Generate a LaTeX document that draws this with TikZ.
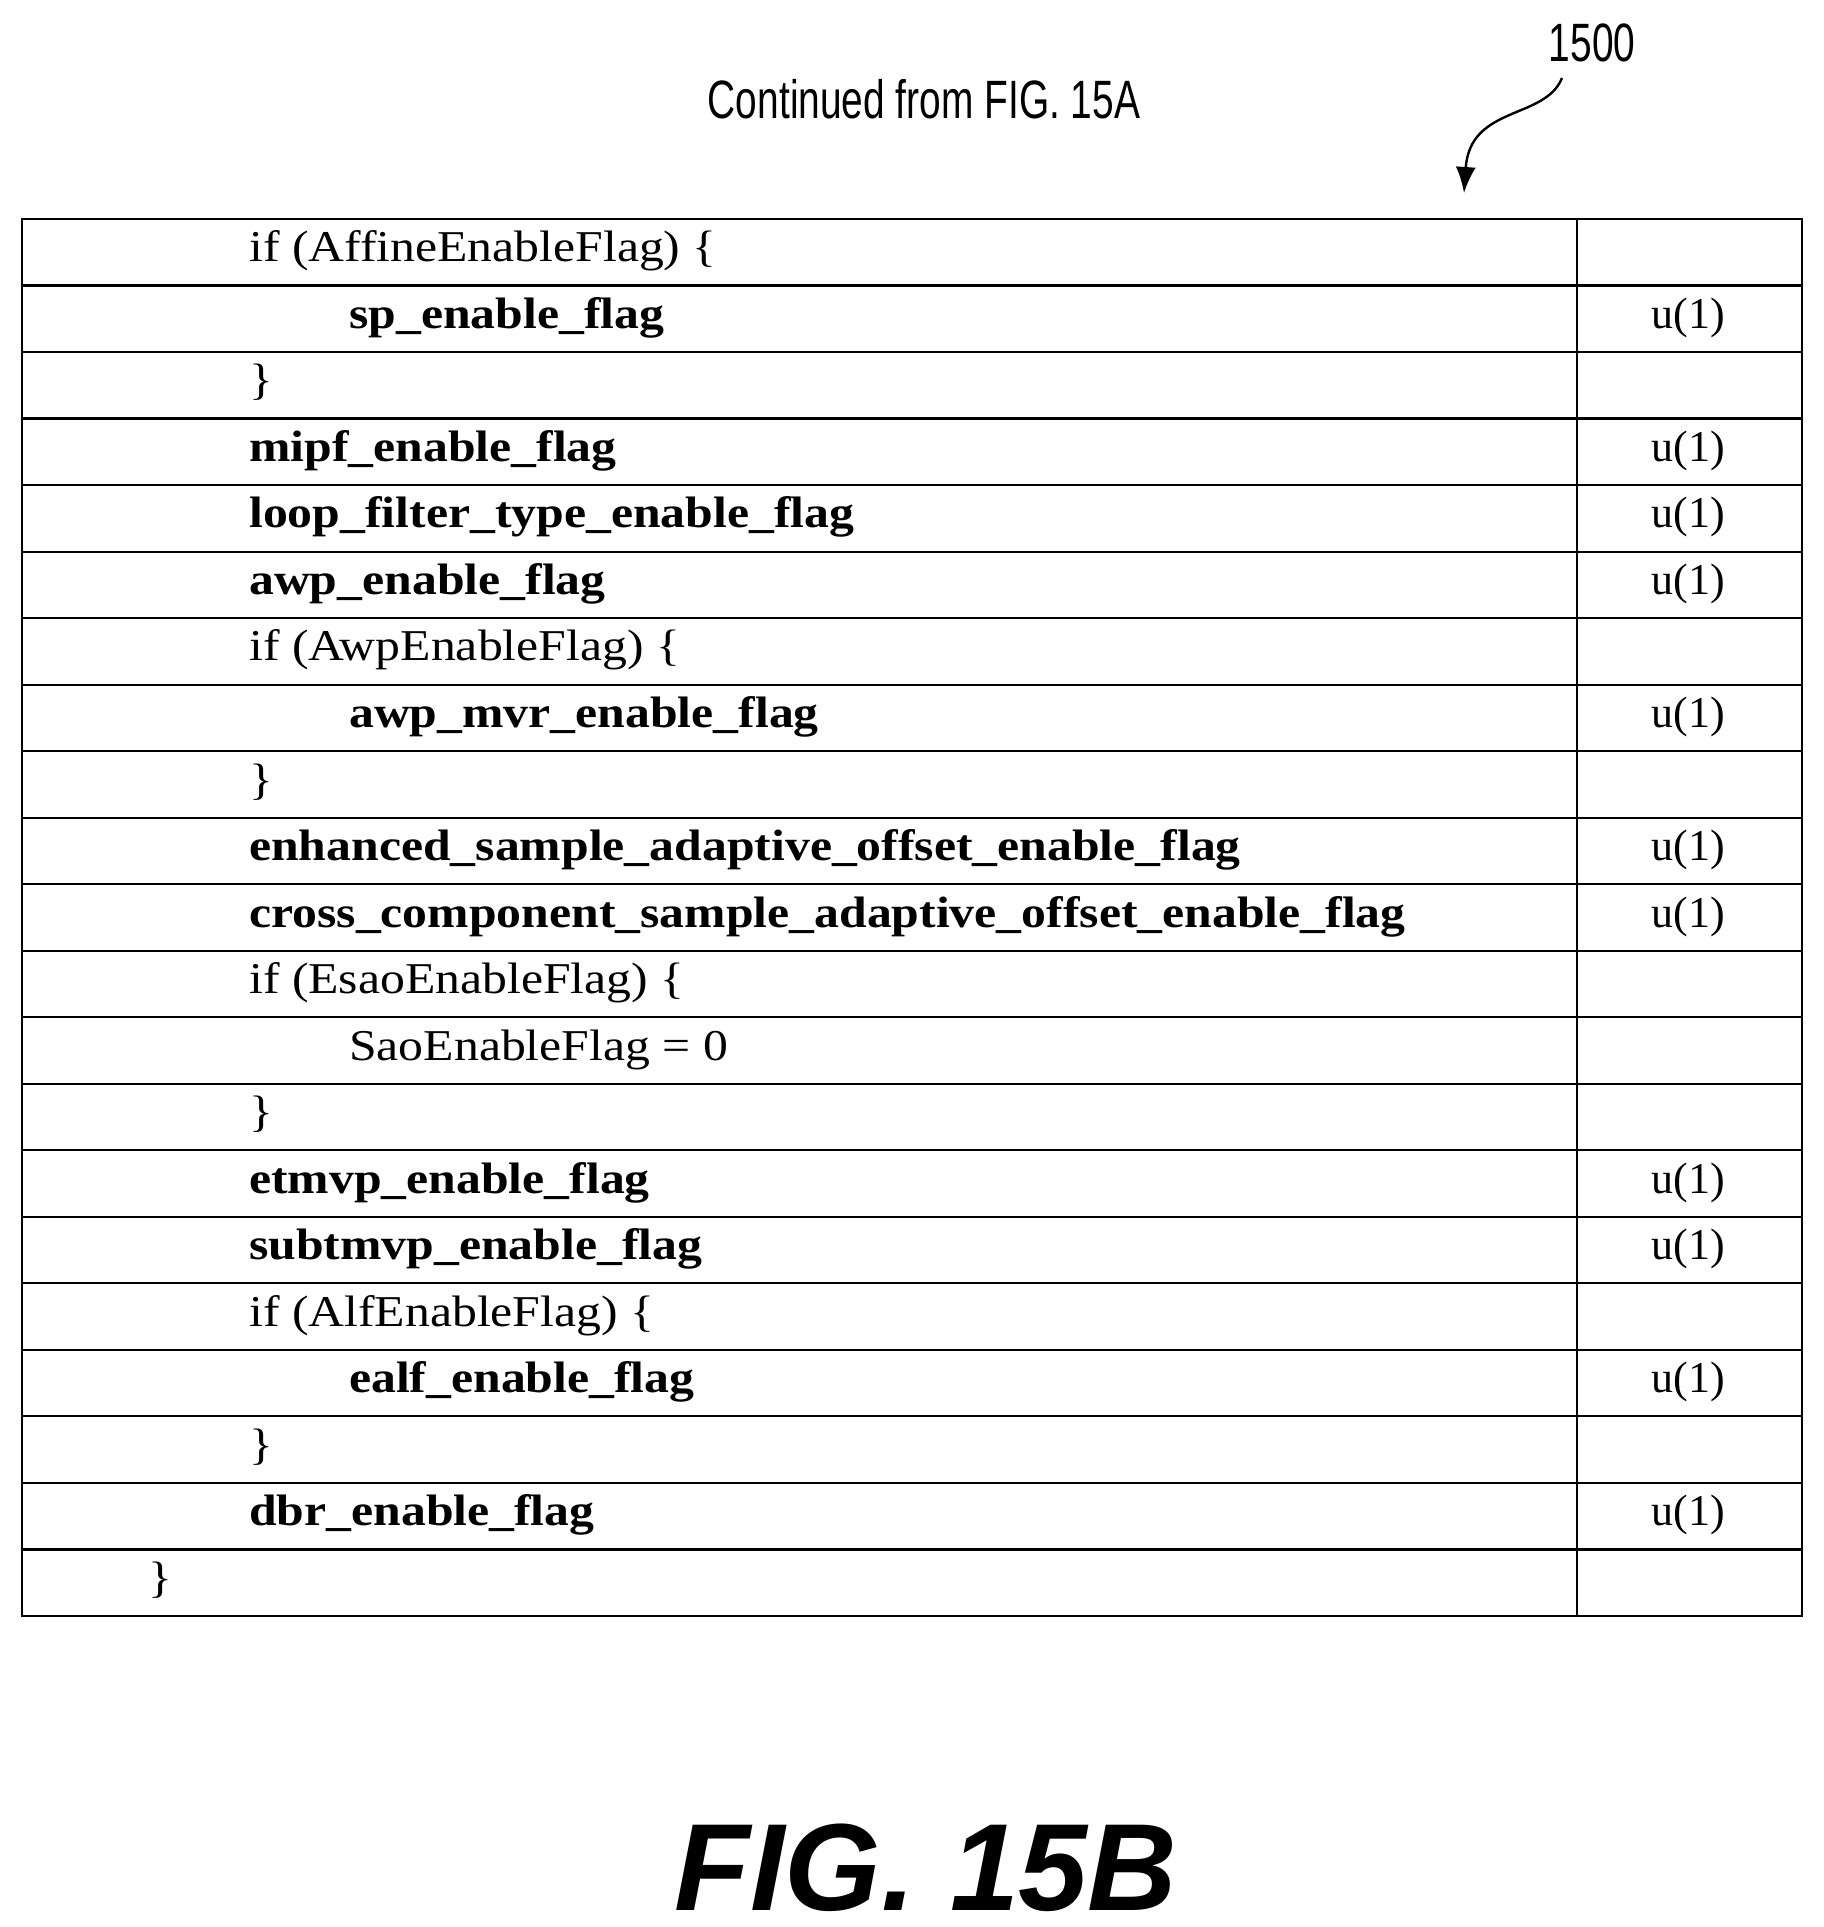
\documentclass[tikz,border=0pt]{standalone}
\usepackage{fontspec}
\usetikzlibrary{arrows.meta}
\setmainfont{Liberation Serif}
\newfontfamily\arial{Liberation Sans}
\begin{document}
\begin{tikzpicture}[x=1pt,y=-1pt,
  cell/.style={anchor=west,inner sep=0pt,xscale=1.13,font=\fontsize{44}{48}\selectfont},
  bcell/.style={cell,font=\fontsize{44}{48}\selectfont\bfseries},
  desc/.style={anchor=center,inner sep=0pt,font=\fontsize{44}{48}\selectfont},
  grid/.style={line width=2.2pt}]
\useasboundingbox (0,0) rectangle (1823,1927);
\def\rh{66.52}
\draw[grid] (22,219) rectangle (1802,1616);
\draw[grid] (1577,219) -- (1577,1616);
\foreach \i in {1,...,20} \draw[grid] (22,219+\i*\rh) -- (1802,219+\i*\rh);
\foreach [count=\i] \ind/\sty/\t/\d in {
 249/cell/{if (AffineEnableFlag) \{}/{},
 349/bcell/{sp\_enable\_flag}/{u(1)},
 249/cell/{\}}/{},
 249/bcell/{mipf\_enable\_flag}/{u(1)},
 249/bcell/{loop\_filter\_type\_enable\_flag}/{u(1)},
 249/bcell/{awp\_enable\_flag}/{u(1)},
 249/cell/{if (AwpEnableFlag) \{}/{},
 349/bcell/{awp\_mvr\_enable\_flag}/{u(1)},
 249/cell/{\}}/{},
 249/bcell/{enhanced\_sample\_adaptive\_offset\_enable\_flag}/{u(1)},
 249/bcell/{cross\_component\_sample\_adaptive\_offset\_enable\_flag}/{u(1)},
 249/cell/{if (EsaoEnableFlag) \{}/{},
 349/cell/{SaoEnableFlag = 0}/{},
 249/cell/{\}}/{},
 249/bcell/{etmvp\_enable\_flag}/{u(1)},
 249/bcell/{subtmvp\_enable\_flag}/{u(1)},
 249/cell/{if (AlfEnableFlag) \{}/{},
 349/bcell/{ealf\_enable\_flag}/{u(1)},
 249/cell/{\}}/{},
 249/bcell/{dbr\_enable\_flag}/{u(1)},
 148/cell/{\}}/{}}
{
 \node[\sty] (r\i) at (\ind,219+\i*\rh-0.5*\rh) {\strut\t};
 \node[desc] (d\i) at (1688,219+\i*\rh-0.5*\rh) {\strut\d};
}
\node[font=\arial\fontsize{54}{58}\selectfont,xscale=0.72] (cont) at (924,99) {Continued from FIG. 15A};
\node[font=\arial\fontsize{54}{58}\selectfont,xscale=0.72] (ref) at (1592,43) {1500};
\coordinate (tip) at (1464,193);
\draw[line width=2.4pt,-{Latex[length=26pt,width=20pt]}] (1562,78) .. controls (1545,120) and (1470,105) .. (tip);
\node[inner sep=0pt,font=\arial\fontsize{124}{124}\selectfont\bfseries\itshape] (fig) at (926,1868) {FIG. 15B};
\end{tikzpicture}
\end{document}
